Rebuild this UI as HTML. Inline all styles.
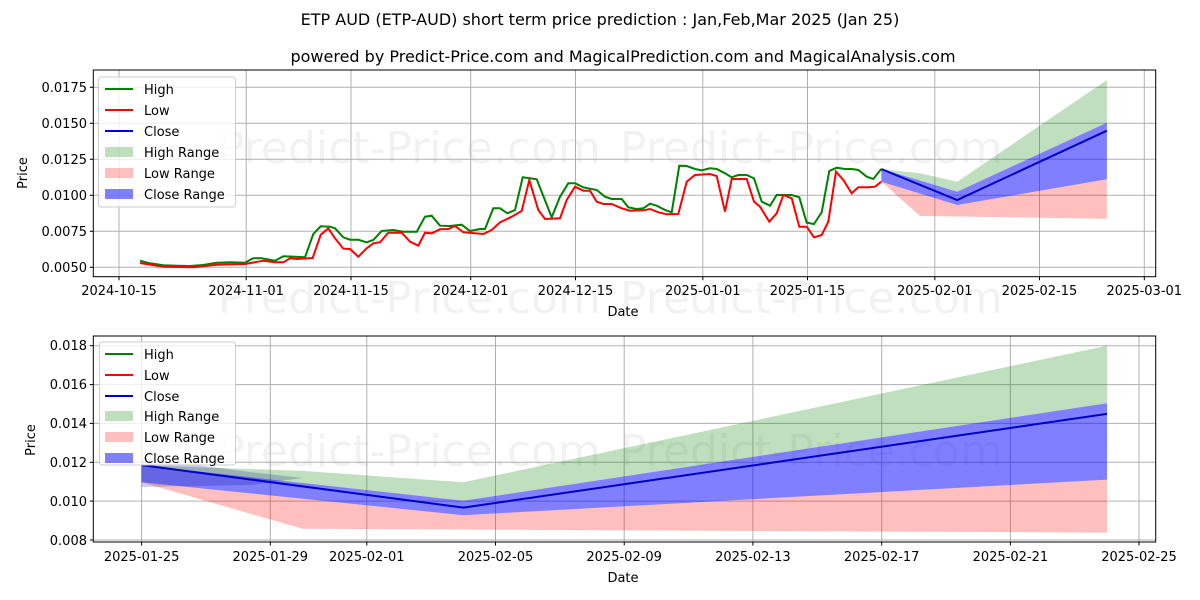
<!DOCTYPE html>
<html><head><meta charset="utf-8"><style>
body{margin:0;background:#fff}
svg{display:block;font-family:"DejaVu Sans","Liberation Sans",sans-serif}
</style></head><body>
<svg width="1200" height="600" viewBox="0 0 1200 600" xmlns="http://www.w3.org/2000/svg">
<rect width="1200" height="600" fill="#fff"/>
<text x="600" y="25" font-size="16" text-anchor="middle">ETP AUD (ETP-AUD) short term price prediction : Jan,Feb,Mar 2025 (Jan 25)</text>
<text x="623" y="62" font-size="16" text-anchor="middle">powered by Predict-Price.com and MagicalPrediction.com and MagicalAnalysis.com</text>

<g fill="#000" fill-opacity="0.05" font-size="44">
<text x="218" y="163">Predict-Price.com</text>
<text x="620" y="163">Predict-Price.com</text>
<text x="218" y="313">Predict-Price.com</text>
<text x="620" y="313">Predict-Price.com</text>
<text x="218" y="466">Predict-Price.com</text>
<text x="620" y="466">Predict-Price.com</text>
</g>

<!-- TOP CHART -->
<g stroke="#b0b0b0" stroke-width="1">
<line x1="119" y1="70" x2="119" y2="277"/><line x1="246.2" y1="70" x2="246.2" y2="277"/><line x1="351" y1="70" x2="351" y2="277"/><line x1="470.7" y1="70" x2="470.7" y2="277"/><line x1="575.5" y1="70" x2="575.5" y2="277"/><line x1="702.8" y1="70" x2="702.8" y2="277"/><line x1="807.5" y1="70" x2="807.5" y2="277"/><line x1="934.8" y1="70" x2="934.8" y2="277"/><line x1="1039.5" y1="70" x2="1039.5" y2="277"/><line x1="1144.3" y1="70" x2="1144.3" y2="277"/>
<line x1="93.3" y1="267.3" x2="1155.7" y2="267.3"/><line x1="93.3" y1="231.3" x2="1155.7" y2="231.3"/><line x1="93.3" y1="195.3" x2="1155.7" y2="195.3"/><line x1="93.3" y1="159.3" x2="1155.7" y2="159.3"/><line x1="93.3" y1="123.3" x2="1155.7" y2="123.3"/><line x1="93.3" y1="87.3" x2="1155.7" y2="87.3"/>
</g>
<polygon fill="#008000" fill-opacity="0.25" points="881.3,169 919.9,173.3 957.2,181.7 1106.9,80 1106.9,122.7 957.2,191.7"/>
<polygon fill="#ff0000" fill-opacity="0.25" points="881.3,181.7 957.2,205 1106.9,179.3 1106.9,218.7 919.9,216"/>
<polygon fill="#0000ff" fill-opacity="0.5" points="881.3,169 957.2,191.7 1106.9,122.7 1106.9,179.3 957.2,205 881.3,181.7"/>
<polyline fill="none" stroke="#008000" stroke-width="2" points="140,260.7 150,263.3 163.3,265.3 176.7,265.7 190,266 203,265 216.7,262.7 230,262.3 245,262.7 253,258.3 261.7,258.3 275,260.7 283.3,256.3 295,256.7 305,257.3 313.3,234 320.7,226.3 330,226.7 335,228.3 343.3,237.3 350,239.7 358.3,239.7 366.7,242.3 373.3,240 381.7,231 393.3,230 403.3,231.7 416.7,231.7 425,216.7 431.7,215.7 440,225.7 450,226 461.7,224.7 470,231 480,229 485,229 493.3,208.3 500,208.3 507.3,213.3 515,210 522.7,177.3 536.7,179.3 551.7,217.3 560,196.7 568.3,183.3 575,183.3 583.3,187.3 596.7,190 605,196.7 611.7,199 621.7,199 628.3,207.3 636.7,209 643.3,208.3 650,203.7 656.7,205.7 665,210 671.7,212.3 679.3,165.7 686.7,166 695,169 701.7,170.3 710,168.3 716.7,169 725,173.3 731.7,177.3 738.3,175 746.7,175 754,178.3 761.7,201.7 770,205.7 776.7,195 785,195 791.7,195 799.3,197.3 806.7,222.7 814,224 821.7,212.3 829.3,171 836.7,167.7 845,169 851.7,169 858.3,170 866.7,176.7 873.3,179 881.3,169"/>
<polyline fill="none" stroke="#ff0000" stroke-width="2" points="140,263 163.3,266.7 193.3,267.3 216.7,264.7 245,264 263.3,260.7 275,262.3 283.3,262.3 290,258.3 296.7,259 312.7,258 320.7,234.7 328.3,228.3 335,238.3 343.3,248.7 350,249 358.3,256.7 366.7,248.3 373.3,243.3 380,242.3 388.3,232.7 401.7,232.7 410,241.7 418.3,245.7 425,232.7 431.7,233.3 440,229.3 448.3,229 455,226 463.3,232.3 483.3,234 491.7,230 500,222.3 511.7,216.7 521.7,211 529.3,180 538.3,210 545,219 560,218.3 566.7,200 575,186.7 583.3,190.7 590,190.7 596.7,201.7 603.3,204 611.7,204 621.7,208.3 630,210.7 643.3,210.3 650,209 658.3,212.3 666.7,214.3 678.3,214 686.7,181.7 695,175 710,174 716.7,176 725,211.7 731.7,179 746.7,179 754,201.7 760,206.7 769.3,221.7 776.7,213.3 783.3,195 791.7,198.3 799.3,226.7 806.7,226.7 814,237.3 821.7,235 828.3,221.7 836,171.7 843.3,180 851.7,193.3 858.3,187.3 868.3,187.3 875,186.7 881.3,181.7"/>
<polyline fill="none" stroke="#0000cc" stroke-width="2" points="881.3,169 957.2,200 1106.9,130.7"/>
<rect x="93.3" y="70" width="1062.4" height="206.7" fill="none" stroke="#000" stroke-width="1"/>
<g stroke="#000"><line x1="89.8" y1="267.3" x2="93.3" y2="267.3"/><line x1="89.8" y1="231.3" x2="93.3" y2="231.3"/><line x1="89.8" y1="195.3" x2="93.3" y2="195.3"/><line x1="89.8" y1="159.3" x2="93.3" y2="159.3"/><line x1="89.8" y1="123.3" x2="93.3" y2="123.3"/><line x1="89.8" y1="87.3" x2="93.3" y2="87.3"/>
<line x1="119" y1="276.7" x2="119" y2="280.2"/><line x1="246.2" y1="276.7" x2="246.2" y2="280.2"/><line x1="351" y1="276.7" x2="351" y2="280.2"/><line x1="470.7" y1="276.7" x2="470.7" y2="280.2"/><line x1="575.5" y1="276.7" x2="575.5" y2="280.2"/><line x1="702.8" y1="276.7" x2="702.8" y2="280.2"/><line x1="807.5" y1="276.7" x2="807.5" y2="280.2"/><line x1="934.8" y1="276.7" x2="934.8" y2="280.2"/><line x1="1039.5" y1="276.7" x2="1039.5" y2="280.2"/><line x1="1144.3" y1="276.7" x2="1144.3" y2="280.2"/></g>
<g font-size="13" text-anchor="end"><text x="87" y="272">0.0050</text><text x="87" y="236">0.0075</text><text x="87" y="200">0.0100</text><text x="87" y="164">0.0125</text><text x="87" y="128">0.0150</text><text x="87" y="92">0.0175</text></g>
<g font-size="13" text-anchor="middle"><text x="119" y="295">2024-10-15</text><text x="246.2" y="295">2024-11-01</text><text x="351" y="295">2024-11-15</text><text x="470.7" y="295">2024-12-01</text><text x="575.5" y="295">2024-12-15</text><text x="702.8" y="295">2025-01-01</text><text x="807.5" y="295">2025-01-15</text><text x="934.8" y="295">2025-02-01</text><text x="1039.5" y="295">2025-02-15</text><text x="1144.3" y="295">2025-03-01</text></g>
<text x="623" y="316" font-size="13" text-anchor="middle">Date</text>
<text transform="translate(27,173) rotate(-90)" font-size="13" text-anchor="middle">Price</text>
<g>
<rect x="98.5" y="77" width="137" height="130" rx="3" fill="#fff" fill-opacity="0.8" stroke="#ccc"/>
<line x1="105" y1="89" x2="133" y2="89" stroke="#008000" stroke-width="2"/>
<line x1="105" y1="110" x2="133" y2="110" stroke="#ff0000" stroke-width="2"/>
<line x1="105" y1="131" x2="133" y2="131" stroke="#0000cc" stroke-width="2"/>
<rect x="105" y="147" width="28" height="10" fill="#008000" fill-opacity="0.25"/>
<rect x="105" y="168" width="28" height="10" fill="#ff0000" fill-opacity="0.25"/>
<rect x="105" y="189" width="28" height="10" fill="#0000ff" fill-opacity="0.5"/>
<g font-size="13"><text x="144" y="94">High</text><text x="144" y="115">Low</text><text x="144" y="136">Close</text><text x="144" y="157">High Range</text><text x="144" y="178">Low Range</text><text x="144" y="199">Close Range</text></g>
</g>

<!-- BOTTOM CHART -->
<g stroke="#b0b0b0" stroke-width="1">
<line x1="141.6" y1="336" x2="141.6" y2="542"/><line x1="270.3" y1="336" x2="270.3" y2="542"/><line x1="366.8" y1="336" x2="366.8" y2="542"/><line x1="495.5" y1="336" x2="495.5" y2="542"/><line x1="624.2" y1="336" x2="624.2" y2="542"/><line x1="752.9" y1="336" x2="752.9" y2="542"/><line x1="881.7" y1="336" x2="881.7" y2="542"/><line x1="1010.4" y1="336" x2="1010.4" y2="542"/><line x1="1139" y1="336" x2="1139" y2="542"/>
<line x1="93.3" y1="540" x2="1155.7" y2="540"/><line x1="93.3" y1="501.1" x2="1155.7" y2="501.1"/><line x1="93.3" y1="462.3" x2="1155.7" y2="462.3"/><line x1="93.3" y1="423.4" x2="1155.7" y2="423.4"/><line x1="93.3" y1="384.6" x2="1155.7" y2="384.6"/><line x1="93.3" y1="345.7" x2="1155.7" y2="345.7"/>
</g>
<polygon fill="#008000" fill-opacity="0.25" points="141.6,465.1 302.5,470.9 463.4,482.3 1107,345.7 1107,403.2 463.4,500.8 141.6,465.1"/>
<polygon fill="#ff0000" fill-opacity="0.25" points="141.6,482.3 463.4,515.2 1107,479.6 1107,532.6 302.5,528.8"/>
<polygon fill="#0000ff" fill-opacity="0.5" points="141.6,465.1 463.4,500.8 1107,403.2 1107,479.6 463.4,515.2 141.6,482.3"/>
<polygon fill="#000080" fill-opacity="0.2" points="141.6,458 250,472 302.5,478 250,485 141.6,487"/>
<polyline fill="none" stroke="#0000cc" stroke-width="2" points="141.6,465.1 463.4,507.6 1107,413.9"/>
<rect x="93.3" y="336" width="1062.4" height="206" fill="none" stroke="#000" stroke-width="1"/>
<g stroke="#000"><line x1="89.8" y1="540" x2="93.3" y2="540"/><line x1="89.8" y1="501.1" x2="93.3" y2="501.1"/><line x1="89.8" y1="462.3" x2="93.3" y2="462.3"/><line x1="89.8" y1="423.4" x2="93.3" y2="423.4"/><line x1="89.8" y1="384.6" x2="93.3" y2="384.6"/><line x1="89.8" y1="345.7" x2="93.3" y2="345.7"/>
<line x1="141.6" y1="542" x2="141.6" y2="545.5"/><line x1="270.3" y1="542" x2="270.3" y2="545.5"/><line x1="366.8" y1="542" x2="366.8" y2="545.5"/><line x1="495.5" y1="542" x2="495.5" y2="545.5"/><line x1="624.2" y1="542" x2="624.2" y2="545.5"/><line x1="752.9" y1="542" x2="752.9" y2="545.5"/><line x1="881.7" y1="542" x2="881.7" y2="545.5"/><line x1="1010.4" y1="542" x2="1010.4" y2="545.5"/><line x1="1139" y1="542" x2="1139" y2="545.5"/></g>
<g font-size="13" text-anchor="end"><text x="87" y="545">0.008</text><text x="87" y="506">0.010</text><text x="87" y="467">0.012</text><text x="87" y="428">0.014</text><text x="87" y="389">0.016</text><text x="87" y="350">0.018</text></g>
<g font-size="13" text-anchor="middle"><text x="141.6" y="561">2025-01-25</text><text x="270.3" y="561">2025-01-29</text><text x="366.8" y="561">2025-02-01</text><text x="495.5" y="561">2025-02-05</text><text x="624.2" y="561">2025-02-09</text><text x="752.9" y="561">2025-02-13</text><text x="881.7" y="561">2025-02-17</text><text x="1010.4" y="561">2025-02-21</text><text x="1139" y="561">2025-02-25</text></g>
<text x="623" y="582" font-size="13" text-anchor="middle">Date</text>
<text transform="translate(35,440) rotate(-90)" font-size="13" text-anchor="middle">Price</text>
<g>
<rect x="99.5" y="342" width="136" height="123" rx="3" fill="#fff" fill-opacity="0.8" stroke="#ccc"/>
<line x1="105" y1="354" x2="133" y2="354" stroke="#008000" stroke-width="2"/>
<line x1="105" y1="375" x2="133" y2="375" stroke="#ff0000" stroke-width="2"/>
<line x1="105" y1="396" x2="133" y2="396" stroke="#0000cc" stroke-width="2"/>
<rect x="105" y="411" width="28" height="10" fill="#008000" fill-opacity="0.25"/>
<rect x="105" y="432" width="28" height="10" fill="#ff0000" fill-opacity="0.25"/>
<rect x="105" y="453" width="28" height="10" fill="#0000ff" fill-opacity="0.5"/>
<g font-size="13"><text x="144" y="359">High</text><text x="144" y="380">Low</text><text x="144" y="401">Close</text><text x="144" y="421">High Range</text><text x="144" y="442">Low Range</text><text x="144" y="463">Close Range</text></g>
</g>
</svg>
</body></html>
